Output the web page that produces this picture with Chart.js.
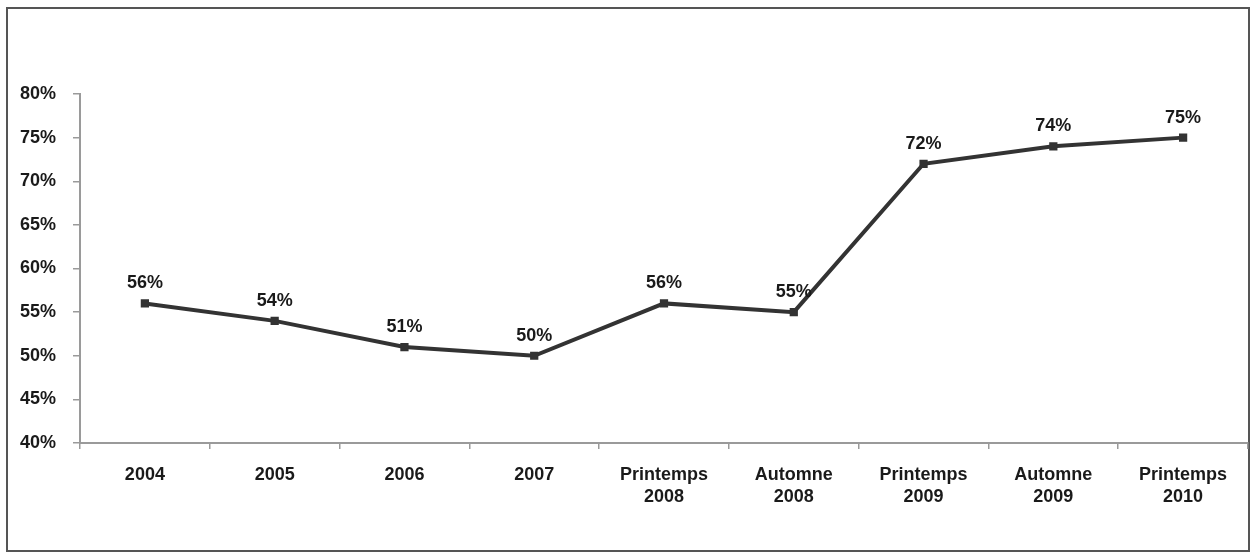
<!DOCTYPE html>
<html>
<head>
<meta charset="utf-8">
<script src="https://cdn.jsdelivr.net/npm/chart.js@4/dist/chart.umd.min.js"></script>
<style>
  html, body { margin: 0; padding: 0; background: #fff; }
  #frame { position: absolute; left: 6px; top: 7px; width: 1244px; height: 545px;
           border: 2px solid #555; box-sizing: border-box; }
  #wrap { position: absolute; left: 0; top: 0; width: 1251px; height: 558px; }
</style>
</head>
<body>
<div id="frame"></div>
<div id="wrap"><canvas id="myChart" width="1251" height="558"></canvas></div>
<script>
// categories and values
const categories = [['2004'], ['2005'], ['2006'], ['2007'], ['Printemps', '2008'], ['Automne', '2008'],
  ['Printemps', '2009'], ['Automne', '2009'], ['Printemps', '2010']];
const values = [56, 54, 51, 50, 56, 55, 72, 74, 75];
const yTicks = [40, 45, 50, 55, 60, 65, 70, 75, 80];

const textColor = '#1a1a1a';
const axisColor = '#9a9a9a';

// writes the value above each point
const valueLabels = {
  id: 'valueLabels',
  afterDatasetsDraw(chart) {
    const ctx = chart.ctx;
    const meta = chart.getDatasetMeta(0);
    ctx.save();
    ctx.font = 'bold 18px "Liberation Sans", Arial, sans-serif';
    ctx.fillStyle = textColor;
    ctx.textAlign = 'center';
    ctx.textBaseline = 'middle';
    meta.data.forEach(function(pt, i) {
      ctx.fillText(values[i] + '%', pt.x, pt.y - 20);
    });
    ctx.restore();
  }
};

const ctx = document.getElementById('myChart');

new Chart(ctx, {
  type: 'line',
  data: {
    labels: categories,
    datasets: [{
      data: values,
      borderColor: '#333',
      backgroundColor: '#333',
      borderWidth: 4,
      pointStyle: 'rect',
      pointRadius: 3,
      pointHoverRadius: 3,
      tension: 0
    }]
  },
  options: {
    responsive: false,
    animation: false,
    events: [],
    layout: { autoPadding: false, padding: { top: 94, right: 3, left: 0, bottom: 0 } },
    plugins: { legend: { display: false }, tooltip: { enabled: false } },
    scales: {
      x: {
        offset: true,
        grid: { offset: true, drawOnChartArea: false, tickLength: 6, color: axisColor, lineWidth: 1.5 },
        border: { color: axisColor, width: 2 },
        ticks: {
          color: textColor, padding: 15, maxRotation: 0, autoSkip: false,
          font: { family: '"Liberation Sans", Arial, sans-serif', size: 18, weight: 'bold', lineHeight: 1.22 }
        },
        afterFit: function(scale) { scale.height = 115; }
      },
      y: {
        min: 40,
        max: 80,
        afterBuildTicks: function(scale) { scale.ticks = yTicks.map(function(v) { return { value: v }; }); },
        grid: { drawOnChartArea: false, tickLength: 7, color: axisColor, lineWidth: 1.5 },
        border: { color: axisColor, width: 2 },
        ticks: {
          color: textColor, padding: 17,
          font: { family: '"Liberation Sans", Arial, sans-serif', size: 18, weight: 'bold' },
          callback: function(v) { return v + '%'; }
        },
        afterFit: function(scale) { scale.width = 80; }
      }
    }
  },
  plugins: [valueLabels]
});
</script>
</body>
</html>
